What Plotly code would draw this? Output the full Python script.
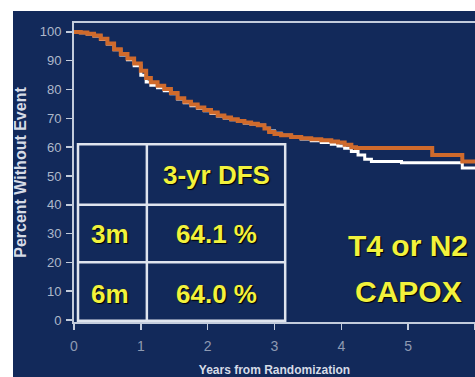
import plotly.graph_objects as go

# ---- data ----
t_orange = [0.00, 0.10, 0.20, 0.30, 0.40, 0.50, 0.60, 0.70, 0.80, 0.90, 1.00, 1.08, 1.15, 1.25,
            1.35, 1.45, 1.55, 1.65, 1.75, 1.85, 1.95, 2.05, 2.15, 2.25, 2.35, 2.45, 2.55, 2.65,
            2.75, 2.85, 2.92, 3.00, 3.10, 3.25, 3.40, 3.55, 3.70, 3.85, 3.95, 4.05, 4.15, 4.22,
            5.36, 5.81, 6.00]
v_orange = [100, 99.8, 99.4, 98.8, 97.6, 96.0, 94.0, 92.3, 90.8, 89.0, 86.5, 84.0, 82.5, 81.3,
            80.2, 78.8, 77.0, 75.8, 74.8, 73.8, 72.9, 72.0, 71.0, 70.3, 69.7, 69.1, 68.6, 68.1,
            67.6, 66.5, 65.3, 64.6, 64.1, 63.5, 63.1, 62.7, 62.4, 62.0, 61.6, 60.8, 60.0, 59.7,
            57.3, 55.0, 55.0]

t_white = [0.00, 0.10, 0.20, 0.30, 0.40, 0.50, 0.60, 0.70, 0.80, 0.90, 1.00, 1.08, 1.15, 1.25,
           1.35, 1.45, 1.55, 1.65, 1.75, 1.85, 1.95, 2.05, 2.15, 2.25, 2.35, 2.45, 2.55, 2.65,
           2.75, 2.85, 2.92, 3.00, 3.10, 3.25, 3.40, 3.55, 3.70, 3.85, 3.95, 4.05, 4.15, 4.25,
           4.35, 4.45, 4.90, 5.81, 6.00]
v_white = [100, 99.7, 99.3, 98.6, 97.4, 95.8, 93.8, 92.0, 90.3, 88.3, 85.0, 82.6, 81.5, 80.6,
           79.6, 78.5, 76.7, 75.4, 74.4, 73.5, 72.6, 71.7, 70.8, 70.1, 69.5, 68.9, 68.4, 68.0,
           67.6, 66.6, 65.6, 64.8, 64.1, 63.4, 62.8, 62.2, 61.6, 61.0, 60.4, 59.6, 58.5, 57.3,
           55.8, 55.0, 54.6, 52.8, 52.8]

x_ticks = [0, 1, 2, 3, 4, 5, 6]
y_ticks = [0, 10, 20, 30, 40, 50, 60, 70, 80, 90, 100]

table_header = "3-yr DFS"
table_arms = ["3m", "6m"]
table_dfs = ["64.1 %", "64.0 %"]
subgroup_text = ["T4 or N2", "CAPOX"]

# ---- styling ----
NAVY = "#12295a"
AXIS = "#c3ccdc"
TABLE = "#dfe4ee"
YELLOW = "#f2f23c"
FONT = "Liberation Sans, Arial, sans-serif"

fig = go.Figure()
fig.add_trace(go.Scatter(x=t_white, y=v_white, mode="lines", line=dict(color="#ffffff", width=3, shape="hv"),
                         name="6m", showlegend=False, hoverinfo="skip"))
fig.add_trace(go.Scatter(x=t_orange, y=v_orange, mode="lines", line=dict(color="#cf6a2c", width=4, shape="hv"),
                         name="3m", showlegend=False, hoverinfo="skip"))

# navy slide background (paper coords relative to plot area)
L, R, T, B, W, H = 74, 0, 23, 55, 475, 377
pw, ph = W - L - R, H - T - B
fig.add_shape(type="rect", xref="paper", yref="paper", layer="below",
              x0=(13 - L) / pw, x1=1.0 + 5 / pw, y0=-(B + 5) / ph, y1=1 + (T - 11) / ph,
              fillcolor=NAVY, line=dict(width=0))

# table
x_l, x_m, x_r = 0.06, 1.09, 3.16
y_top, y_1, y_2, y_bot = 61, 40, 20, -0.3
tl = dict(color=TABLE, width=2.5)
fig.add_shape(type="rect", x0=x_l, x1=x_r, y0=y_bot, y1=y_top, line=tl, xref="x", yref="y")
fig.add_shape(type="line", x0=x_l, x1=x_r, y0=y_1, y1=y_1, line=tl)
fig.add_shape(type="line", x0=x_l, x1=x_r, y0=y_2, y1=y_2, line=tl)
fig.add_shape(type="line", x0=x_m, x1=x_m, y0=y_bot, y1=y_top, line=tl)

tfont = dict(family=FONT, size=26, color=YELLOW, weight="bold", shadow="1px 1px 1px #000000")
fig.add_annotation(x=(x_m + x_r) / 2, y=(y_top + y_1) / 2, text=table_header, showarrow=False, font=tfont)
row_y = [(y_1 + y_2) / 2, (y_2 + y_bot) / 2 - 1]
for arm, dfs, yy in zip(table_arms, table_dfs, row_y):
    fig.add_annotation(x=(x_l + x_m) / 2 - 0.03, y=yy, text=arm, showarrow=False, font=tfont)
    fig.add_annotation(x=(x_m + x_r) / 2, y=yy, text=dfs, showarrow=False, font=tfont)

sfont = dict(family=FONT, size=30, color=YELLOW, weight="bold", shadow="1px 1px 1px #000000")
for txt, yy in zip(subgroup_text, [26, 10]):
    fig.add_annotation(x=5.0, y=yy, text=txt, showarrow=False, font=sfont)

fig.update_xaxes(range=[0, 6], tickvals=x_ticks, showline=True, linecolor=AXIS, linewidth=2, mirror=True,
                 ticks="outside", ticklen=6, tickcolor=AXIS, tickwidth=1.5, showgrid=False, zeroline=False,
                 tickfont=dict(family=FONT, size=14, color="#8e9ab2"), ticklabelstandoff=4,
                 title=dict(text="Years from Randomization", standoff=19,
                            font=dict(family=FONT, size=12, color="#d6dbe6", weight="bold")))
fig.update_yaxes(range=[-0.7, 103.1], tickvals=y_ticks, showline=True, linecolor=AXIS, linewidth=2, mirror=True,
                 ticks="outside", ticklen=6, tickcolor=AXIS, tickwidth=1.5, showgrid=False, zeroline=False,
                 tickfont=dict(family=FONT, size=13, color="#aeb8ca"), ticklabelstandoff=2,
                 title=dict(text="Percent Without Event", standoff=9,
                            font=dict(family=FONT, size=16, color="#d6dbe6", weight="bold")))

fig.update_layout(width=W, height=H, margin=dict(l=L, r=R, t=T, b=B, autoexpand=False),
                  paper_bgcolor="#ffffff", plot_bgcolor="rgba(0,0,0,0)", showlegend=False,
                  hovermode=False)

fig.write_html("out.html", config={"displayModeBar": False, "staticPlot": True},
               post_script="document.body.style.margin='0px';")
